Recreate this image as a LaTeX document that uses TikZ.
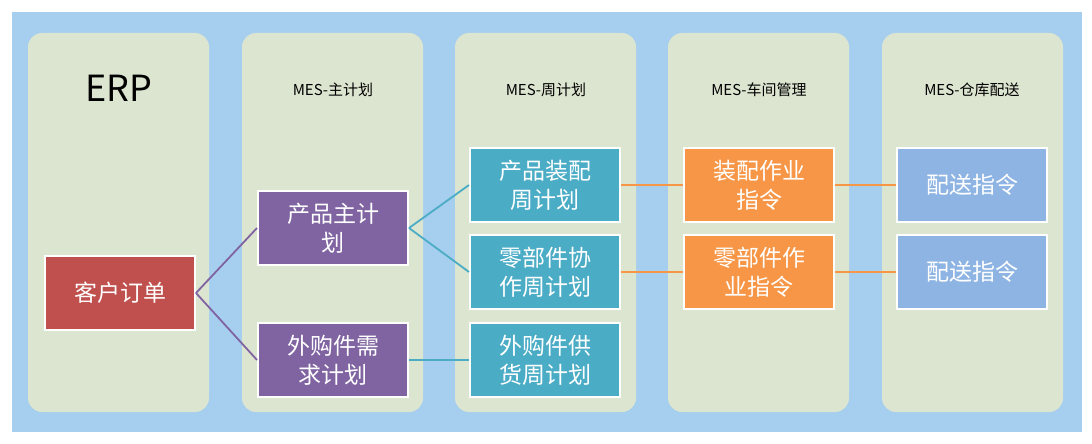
\documentclass[tikz,border=0pt]{standalone}
\usepackage{fontspec}
\setmainfont{Noto Sans CJK SC}
\begin{document}
\begin{tikzpicture}[x=1pt,y=-1pt,
 col/.style={fill=colg,rounded corners=14pt,draw=none},
 box/.style={draw=white,line width=2pt,minimum width=150pt,minimum height=74pt,text width=130pt,align=center,text=white,font=\fontsize{23}{29}\selectfont,inner sep=2pt},
 ttl/.style={font=\fontsize{15}{18}\selectfont},
 ln/.style={line width=1.8pt}]
\definecolor{bg}{HTML}{A6CEEE}
\definecolor{colg}{HTML}{DCE5D0}
\definecolor{cred}{HTML}{C0504D}
\definecolor{cpur}{HTML}{8064A2}
\definecolor{ctea}{HTML}{4BACC6}
\definecolor{cora}{HTML}{F79646}
\definecolor{cblu}{HTML}{8EB4E3}
\useasboundingbox (0,0) rectangle (1092,444);
\fill[white] (0,0) rectangle (1092,444);
\fill[bg] (12,12) rectangle (1082,432);
\foreach \x in {28,242,455,668,882} \fill[col] (\x,33) rectangle ++(181,379);
\node[font=\fontsize{36}{40}\selectfont] (t1) at (119,88) {ERP};
\node[ttl] (t2) at (333,90) {MES-主计划};
\node[ttl] (t3) at (546,90) {MES-周计划};
\node[ttl] (t4) at (759,90) {MES-车间管理};
\node[ttl] (t5) at (972,90) {MES-仓库配送};
\node[box,fill=cred] (a) at (120,293) {客户订单};
\node[box,fill=cpur] (b1) at (333,228) {产品主计\\划};
\node[box,fill=cpur] (b2) at (333,360) {外购件需\\求计划};
\node[box,fill=ctea] (c1) at (545,185) {产品装配\\周计划};
\node[box,fill=ctea] (c2) at (545,272) {零部件协\\作周计划};
\node[box,fill=ctea] (c3) at (545,360) {外购件供\\货周计划};
\node[box,fill=cora] (d1) at (759,185) {装配作业\\指令};
\node[box,fill=cora] (d2) at (759,272) {零部件作\\业指令};
\node[box,fill=cblu] (e1) at (972,185) {配送指令};
\node[box,fill=cblu] (e2) at (972,272) {配送指令};
\draw[ln,cpur] (a.east) -- (b1.west);
\draw[ln,cpur] (a.east) -- (b2.west);
\draw[ln,ctea] (b1.east) -- (c1.west);
\draw[ln,ctea] (b1.east) -- (c2.west);
\draw[ln,ctea] (b2.east) -- (c3.west);
\draw[ln,cora] (c1.east) -- (d1.west);
\draw[ln,cora] (c2.east) -- (d2.west);
\draw[ln,cora] (d1.east) -- (e1.west);
\draw[ln,cora] (d2.east) -- (e2.west);
\end{tikzpicture}
\end{document}
